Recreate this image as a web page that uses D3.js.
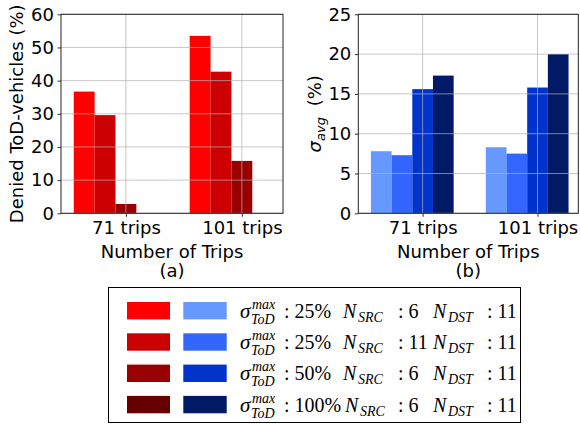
<!DOCTYPE html>
<html>
<head>
<meta charset="utf-8">
<script src="https://d3js.org/d3.v7.min.js"></script>
<style>
  body { margin: 0; background: #fff; }
  svg { display: block; }
  .tick text { font-family: "DejaVu Sans"; font-size: 18px; fill: #000; }
  .lbl { font-family: "DejaVu Sans"; font-size: 18px; fill: #000; }
  .leg { font-family: "Liberation Serif"; fill: #000; }
</style>
</head>
<body>
<div id="chart"></div>
<script>
// values
var trips = ["71 trips", "101 trips"];
var denied = [            // Denied ToD-vehicles (%), one array per setting
  [36.7, 53.5],
  [29.6, 42.7],
  [2.8, 15.8],
  [0, 0]
];
var sigmaAvg = [          // sigma_avg (%)
  [7.8, 8.3],
  [7.3, 7.5],
  [15.6, 15.8],
  [17.3, 20.0]
];
var redColors = ["#ff0000", "#cc0000", "#990000", "#660000"];
var blueColors = ["#6699ff", "#3366ff", "#0033cc", "#001a66"];
var yTicksA = [0, 10, 20, 30, 40, 50, 60];
var yTicksB = [0, 5, 10, 15, 20, 25];
var sigmaMax = ["25%", "25%", "50%", "100%"];
var nSrc = ["6", "11", "6", "6"];
var nDst = ["11", "11", "11", "11"];

var W = 580, H = 424;
var svg = d3.select("#chart").append("svg")
    .attr("width", W).attr("height", H);

var barW = 0.18;
var yTop = 14.3, yBot = 213.3;

function panel(x0, x1, yMax, yTicks, values, colors, sub) {
    var x = d3.scaleLinear().domain([-0.56, 1.355]).range([x0, x1]);
    var y = d3.scaleLinear().domain([0, yMax]).range([yBot, yTop]);
    var g = svg.append("g");

    // bars
    values.forEach(function (series, s) {
        g.selectAll(null)
            .data(series)
            .enter()
            .append("rect")
            .attr("x", function (d, i) { return x(i + (s - 2) * barW - barW / 2); })
            .attr("width", x(barW) - x(0))
            .attr("y", function (d) { return y(d); })
            .attr("height", function (d) { return y(0) - y(d); })
            .attr("fill", colors[s]);
    });

    // grid on top of bars
    g.selectAll(null).data(yTicks).enter().append("line")
        .attr("x1", x0).attr("x2", x1)
        .attr("y1", function (d) { return y(d); })
        .attr("y2", function (d) { return y(d); })
        .attr("stroke", "#b0b0b0").attr("stroke-opacity", 0.7).attr("stroke-width", 1);
    g.selectAll(null).data(trips).enter().append("line")
        .attr("x1", function (d, i) { return x(i); })
        .attr("x2", function (d, i) { return x(i); })
        .attr("y1", yTop).attr("y2", yBot)
        .attr("stroke", "#b0b0b0").attr("stroke-opacity", 0.7).attr("stroke-width", 1);

    // axes
    g.append("g")
        .attr("transform", "translate(0," + yBot + ")")
        .call(d3.axisBottom(x).tickValues([0, 1])
            .tickFormat(function (d) { return trips[d]; })
            .tickSize(3.5).tickPadding(4))
        .call(function (a) { a.select(".domain").remove(); });
    g.append("g")
        .attr("transform", "translate(" + x0 + ",0)")
        .call(d3.axisLeft(y).tickValues(yTicks).tickSize(3.5).tickPadding(3.5))
        .call(function (a) { a.select(".domain").remove(); });
    g.selectAll(".tick line").attr("stroke", "#000").attr("stroke-width", 0.8);

    g.append("rect")
        .attr("x", x0).attr("y", yTop)
        .attr("width", x1 - x0).attr("height", yBot - yTop)
        .attr("fill", "none").attr("stroke", "#222").attr("stroke-width", 1);

    var cx = (x0 + x1) / 2;
    g.append("text").attr("class", "lbl")
        .attr("x", cx).attr("y", 258).attr("text-anchor", "middle")
        .text("Number of Trips");
    g.append("text").attr("class", "lbl")
        .attr("x", cx).attr("y", 277).attr("text-anchor", "middle")
        .text(sub);
    return g;
}

var ga = panel(61, 283, 60, yTicksA, denied, redColors, "(a)");
ga.append("text").attr("class", "lbl")
    .attr("transform", "translate(22.5," + (yTop + yBot) / 2 + ") rotate(-90)")
    .attr("text-anchor", "middle")
    .text("Denied ToD-vehicles (%)");

var gb = panel(358.3, 578.3, 25, yTicksB, sigmaAvg, blueColors, "(b)");
var yl = gb.append("text").attr("class", "lbl")
    .attr("transform", "translate(321," + (yTop + yBot) / 2 + ") rotate(-90)")
    .attr("text-anchor", "middle");
yl.append("tspan").attr("font-style", "italic").text("σ");
yl.append("tspan").attr("font-style", "italic").attr("font-size", "13px")
    .attr("dy", 4).text("avg");
yl.append("tspan").attr("dy", -4).attr("dx", 5).text(" (%)");

// legend
var leg = svg.append("g");
leg.append("rect")
    .attr("x", 108.5).attr("y", 287.5).attr("width", 412).attr("height", 135)
    .attr("fill", "#fff").attr("stroke", "#000").attr("stroke-width", 1);

sigmaMax.forEach(function (v, i) {
    var cy = 310.7 + i * 31.3;
    var base = cy + 7;
    leg.append("rect").attr("x", 127).attr("y", cy - 8.7)
        .attr("width", 43).attr("height", 17.4).attr("fill", redColors[i]);
    leg.append("rect").attr("x", 183.3).attr("y", cy - 8.7)
        .attr("width", 43.4).attr("height", 17.4).attr("fill", blueColors[i]);

    function t(x, y, s, size, ital) {
        leg.append("text").attr("class", "leg")
            .attr("x", x).attr("y", y)
            .attr("font-size", size + "px")
            .attr("font-style", ital ? "italic" : "normal")
            .text(s);
    }
    t(240, base, "σ", 21, true);
    t(252, base - 9, "max", 14, true);
    t(251, base + 6, "ToD", 14, true);
    t(284, base, ": " + v, 20, false);
    var nx = v.length > 3 ? 345 : 343;
    t(nx, base, "N", 20, true);
    t(nx + 15, base + 4, "SRC", 14, true);
    t(398, base, ": " + nSrc[i], 20, false);
    t(433, base, "N", 20, true);
    t(448, base + 4, "DST", 14, true);
    t(487, base, ": " + nDst[i], 20, false);
});
</script>
</body>
</html>
